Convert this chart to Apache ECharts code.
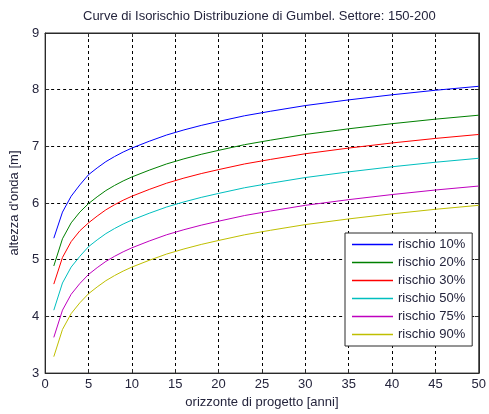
<!DOCTYPE html>
<html>
<head>
<meta charset="utf-8">
<script src="https://cdn.jsdelivr.net/npm/echarts@6/dist/echarts.min.js"></script>
<style>
  html, body { margin: 0; padding: 0; background: #ffffff; }
  #chart { width: 489px; height: 414px; }
</style>
</head>
<body>
<div id="chart"></div>
<script>
// Design horizon (years)
const horizon = [1, 2, 3, 4, 5, 6, 7, 8, 9, 10, 12, 14, 16, 18, 20, 23, 26, 30, 35, 40, 45, 50];

// Wave height [m] for each risk level
const risk10 = [5.38, 5.84, 6.12, 6.32, 6.50, 6.62, 6.73, 6.82, 6.90, 6.97, 7.09, 7.20, 7.29, 7.37, 7.44, 7.54, 7.62, 7.72, 7.82, 7.91, 7.99, 8.06];
const risk20 = [4.89, 5.37, 5.65, 5.84, 5.99, 6.11, 6.22, 6.31, 6.39, 6.46, 6.58, 6.69, 6.78, 6.86, 6.93, 7.03, 7.11, 7.21, 7.31, 7.40, 7.48, 7.55];
const risk30 = [4.57, 5.04, 5.32, 5.51, 5.65, 5.77, 5.88, 5.97, 6.05, 6.12, 6.24, 6.35, 6.44, 6.52, 6.59, 6.69, 6.77, 6.87, 6.97, 7.06, 7.14, 7.21];
const risk50 = [4.11, 4.59, 4.87, 5.06, 5.23, 5.35, 5.46, 5.55, 5.63, 5.70, 5.82, 5.93, 6.02, 6.10, 6.17, 6.27, 6.35, 6.45, 6.55, 6.64, 6.72, 6.79];
const risk75 = [3.63, 4.11, 4.39, 4.58, 4.74, 4.86, 4.97, 5.06, 5.14, 5.21, 5.33, 5.44, 5.53, 5.61, 5.68, 5.78, 5.86, 5.96, 6.06, 6.15, 6.23, 6.30];
const risk90 = [3.29, 3.77, 4.05, 4.24, 4.40, 4.52, 4.63, 4.72, 4.80, 4.87, 4.99, 5.10, 5.19, 5.27, 5.34, 5.44, 5.52, 5.62, 5.72, 5.81, 5.89, 5.96];

const seriesNames = ['rischio 10%', 'rischio 20%', 'rischio 30%', 'rischio 50%', 'rischio 75%', 'rischio 90%'];
const seriesColors = ['#0000ff', '#008000', '#ff0000', '#00bfbf', '#bf00bf', '#bfbf00'];
const seriesValues = [risk10, risk20, risk30, risk50, risk75, risk90];

const xTicks = { min: 0, max: 50, interval: 5 };
const yTicks = { min: 3, max: 9, interval: 1 };

const textColor = '#24243c';
const frameColor = '#2a2a2a';
const font = 'Liberation Sans, Arial, sans-serif';

const gridLine = { show: true, lineStyle: { color: '#000000', width: 1, type: [3, 3] } };
const frameLine = { show: true, onZero: false, lineStyle: { color: frameColor, width: 1 } };
const innerTick = { show: true, inside: true, length: 4, lineStyle: { color: frameColor } };

const chart = echarts.init(document.getElementById('chart'), null, { renderer: 'canvas' });

chart.setOption({
  backgroundColor: '#ffffff',
  animation: false,
  title: {
    text: 'Curve di Isorischio Distribuzione di Gumbel. Settore: 150-200',
    left: 83,
    top: 10,
    padding: 0,
    textStyle: { fontFamily: font, fontSize: 13, fontWeight: 'normal', color: textColor }
  },
  grid: {
    left: 43, right: 7, top: 33, bottom: 34,
    show: true, borderColor: frameColor, borderWidth: 1, backgroundColor: '#ffffff'
  },
  legend: {
    orient: 'vertical',
    left: 345,
    top: 233,
    padding: [5, 7, 5, 7],
    itemGap: 5,
    itemWidth: 41,
    itemHeight: 14,
    icon: 'path://M0,0 L41,0 L41,1.3 L0,1.3 Z',
    symbolKeepAspect: true,
    backgroundColor: '#ffffff',
    borderColor: frameColor,
    borderWidth: 1,
    borderRadius: 0,
    textStyle: { fontFamily: font, fontSize: 13, color: textColor },
    data: seriesNames
  },
  xAxis: [{
    type: 'value',
    min: xTicks.min, max: xTicks.max, interval: xTicks.interval,
    name: 'orizzonte di progetto [anni]',
    nameLocation: 'middle',
    nameGap: 21,
    nameTextStyle: { fontFamily: font, fontSize: 13, color: textColor },
    axisLine: frameLine,
    axisTick: innerTick,
    axisLabel: { fontFamily: font, fontSize: 13, color: textColor, margin: 5 },
    splitLine: gridLine
  }, {
    type: 'value', position: 'top',
    min: xTicks.min, max: xTicks.max, interval: xTicks.interval,
    axisLine: frameLine,
    axisTick: innerTick,
    axisLabel: { show: false },
    splitLine: { show: false }
  }],
  yAxis: [{
    type: 'value',
    min: yTicks.min, max: yTicks.max, interval: yTicks.interval,
    name: "altezza d'onda [m]",
    nameLocation: 'middle',
    nameGap: 21,
    nameTextStyle: { fontFamily: font, fontSize: 13, color: textColor },
    axisLine: frameLine,
    axisTick: innerTick,
    axisLabel: { fontFamily: font, fontSize: 13, color: textColor, margin: 6 },
    splitLine: gridLine
  }, {
    type: 'value', position: 'right',
    min: yTicks.min, max: yTicks.max, interval: yTicks.interval,
    axisLine: frameLine,
    axisTick: innerTick,
    axisLabel: { show: false },
    splitLine: { show: false }
  }],
  series: seriesNames.map((name, i) => ({
    name: name,
    type: 'line',
    xAxisIndex: 0,
    yAxisIndex: 0,
    symbol: 'none',
    smooth: false,
    color: seriesColors[i],
    lineStyle: { color: seriesColors[i], width: 1 },
    data: horizon.map((x, k) => [x, seriesValues[i][k]])
  }))
});
</script>
</body>
</html>
